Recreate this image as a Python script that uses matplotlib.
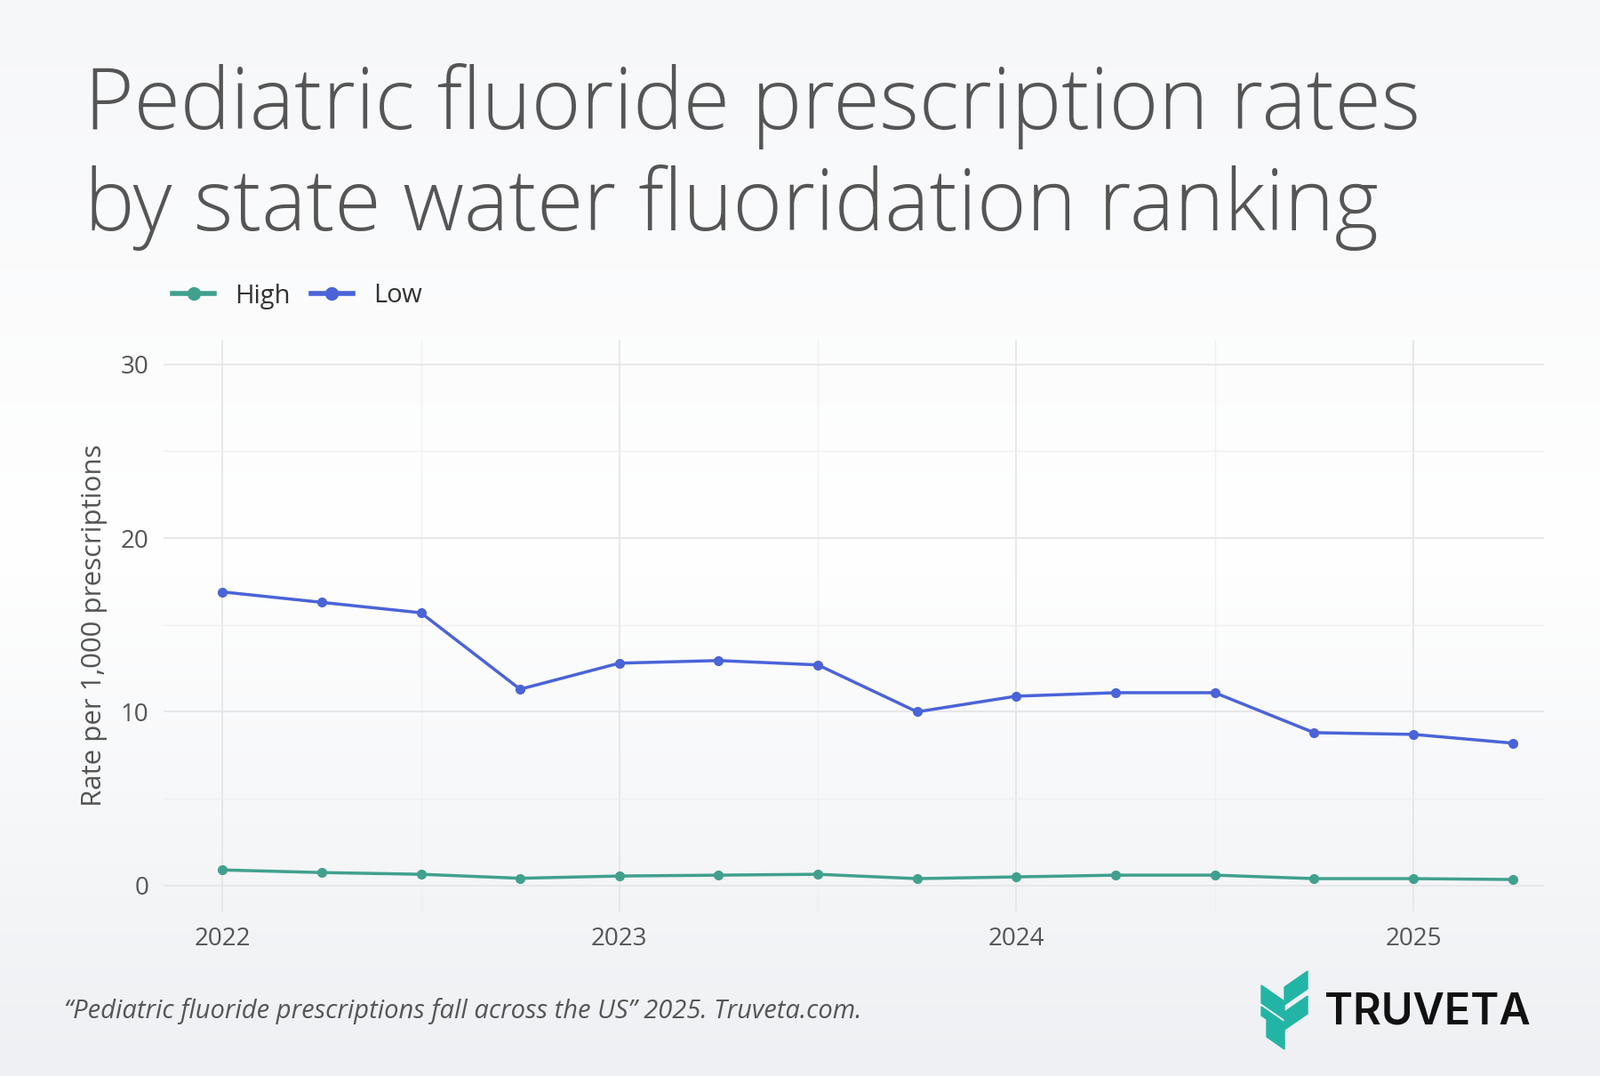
import numpy as np
import matplotlib
matplotlib.use('Agg')
import matplotlib.pyplot as plt
from matplotlib.patches import Polygon
from matplotlib.transforms import Affine2D

plt.rcParams['font.family'] = 'Open Sans'

# quarterly, 2022 Q1 .. 2025 Q2
quarters = [2022 + 0.25 * i for i in range(14)]
low = [16.9, 16.3, 15.7, 11.3, 12.8, 12.95, 12.7, 10.0, 10.9, 11.1, 11.1, 8.8, 8.7, 8.2]
high = [0.9, 0.75, 0.65, 0.42, 0.55, 0.6, 0.65, 0.4, 0.5, 0.6, 0.6, 0.4, 0.4, 0.35]
year_ticks = [2022, 2023, 2024, 2025]
y_ticks = [0, 10, 20, 30]

C_HIGH = '#40a08e'
C_LOW = '#4a63d8'
TXT = '#555555'

W, H = 1800, 1210
fig = plt.figure(figsize=(W / 100, H / 100), dpi=100)

# background gradient
bg = fig.add_axes([0, 0, 1, 1], zorder=-10)
grad = np.linspace(0, 1, 256).reshape(-1, 1)
bg.imshow(grad, aspect='auto', extent=[0, 1, 0, 1],
          cmap=matplotlib.colors.LinearSegmentedColormap.from_list('g', ['#f6f7f9', '#ffffff', '#eef0f3']),
          origin='upper')
bg.axis('off')

px = Affine2D().scale(1 / W, -1 / H).translate(0, 1) + fig.transFigure

ax = fig.add_axes([160 / 1568, 1 - 893 / 1054, (1513 - 160) / 1568, (893 - 333) / 1054])
ax.patch.set_alpha(0)
ax.plot(quarters, low, '-o', color=C_LOW, lw=2.5, ms=7, label='Low', zorder=3)
ax.plot(quarters, high, '-o', color=C_HIGH, lw=2.5, ms=7, label='High', zorder=3)
ax.set_xlim(2021.851, 2025.329)
ax.set_ylim(-1.5, 31.4)
ax.set_xticks(year_ticks)
ax.set_xticklabels([str(y) for y in year_ticks])
ax.set_xticks([2022.5, 2023.5, 2024.5], minor=True)
ax.set_yticks(y_ticks)
ax.set_yticks([5, 15, 25], minor=True)
ax.grid(True, which='major', color='#e6e6e6', lw=1.3)
ax.grid(True, which='minor', color='#f0f0f0', lw=1.0)
ax.tick_params(which='both', length=0, labelsize=20, labelcolor=TXT, pad=12)
for s in ax.spines.values():
    s.set_visible(False)
ax.set_ylabel('Rate per 1,000 prescriptions', fontsize=22.5, color=TXT, labelpad=10)

fig.text(95 / W, 1 - 120 / H, 'Pediatric fluoride prescription rates',
         fontsize=68.5, color=TXT, weight='light', va='center')
fig.text(95 / W, 1 - 233 / H, 'by state water fluoridation ranking',
         fontsize=68.5, color=TXT, weight='light', va='center')

h_high, = ax.plot([], [], '-o', color=C_HIGH, lw=4, ms=10)
h_low, = ax.plot([], [], '-o', color=C_LOW, lw=4, ms=10)
fig.legend([h_high, h_low], ['High', 'Low'], loc='center left',
           bbox_to_anchor=(168 / W, 1 - 333 / H), ncol=2, frameon=False,
           fontsize=21, handlelength=1.6, columnspacing=0.8, handletextpad=0.8,
           labelcolor='#333333')

fig.text(72 / W, 1 - 1137 / H,
         '\u201cPediatric fluoride prescriptions fall across the US\u201d 2025. Truveta.com.',
         fontsize=21, style='italic', color=TXT, va='center')

# logo
fig.text(1490 / W, 1 - 1139 / H, 'TRUVETA', fontsize=35, weight='semibold', family='Inter',
         color='#111111', va='center')
teal = '#22b5a5'
shapes = [
    [(1419, 1108), (1445, 1126), (1445, 1146), (1419, 1128)],
    [(1445, 1110), (1471, 1092), (1471, 1112), (1445, 1130)],
    [(1445, 1138), (1471, 1120), (1471, 1140), (1445, 1158)],
    [(1419, 1132), (1445, 1150), (1445, 1160), (1419, 1142)],
    [(1425, 1146), (1445, 1160), (1445, 1180), (1425, 1166)],
]
for pts in shapes:
    fig.patches.append(Polygon(pts, closed=True, transform=px, color=teal))

fig.savefig('out.png', dpi=100)
